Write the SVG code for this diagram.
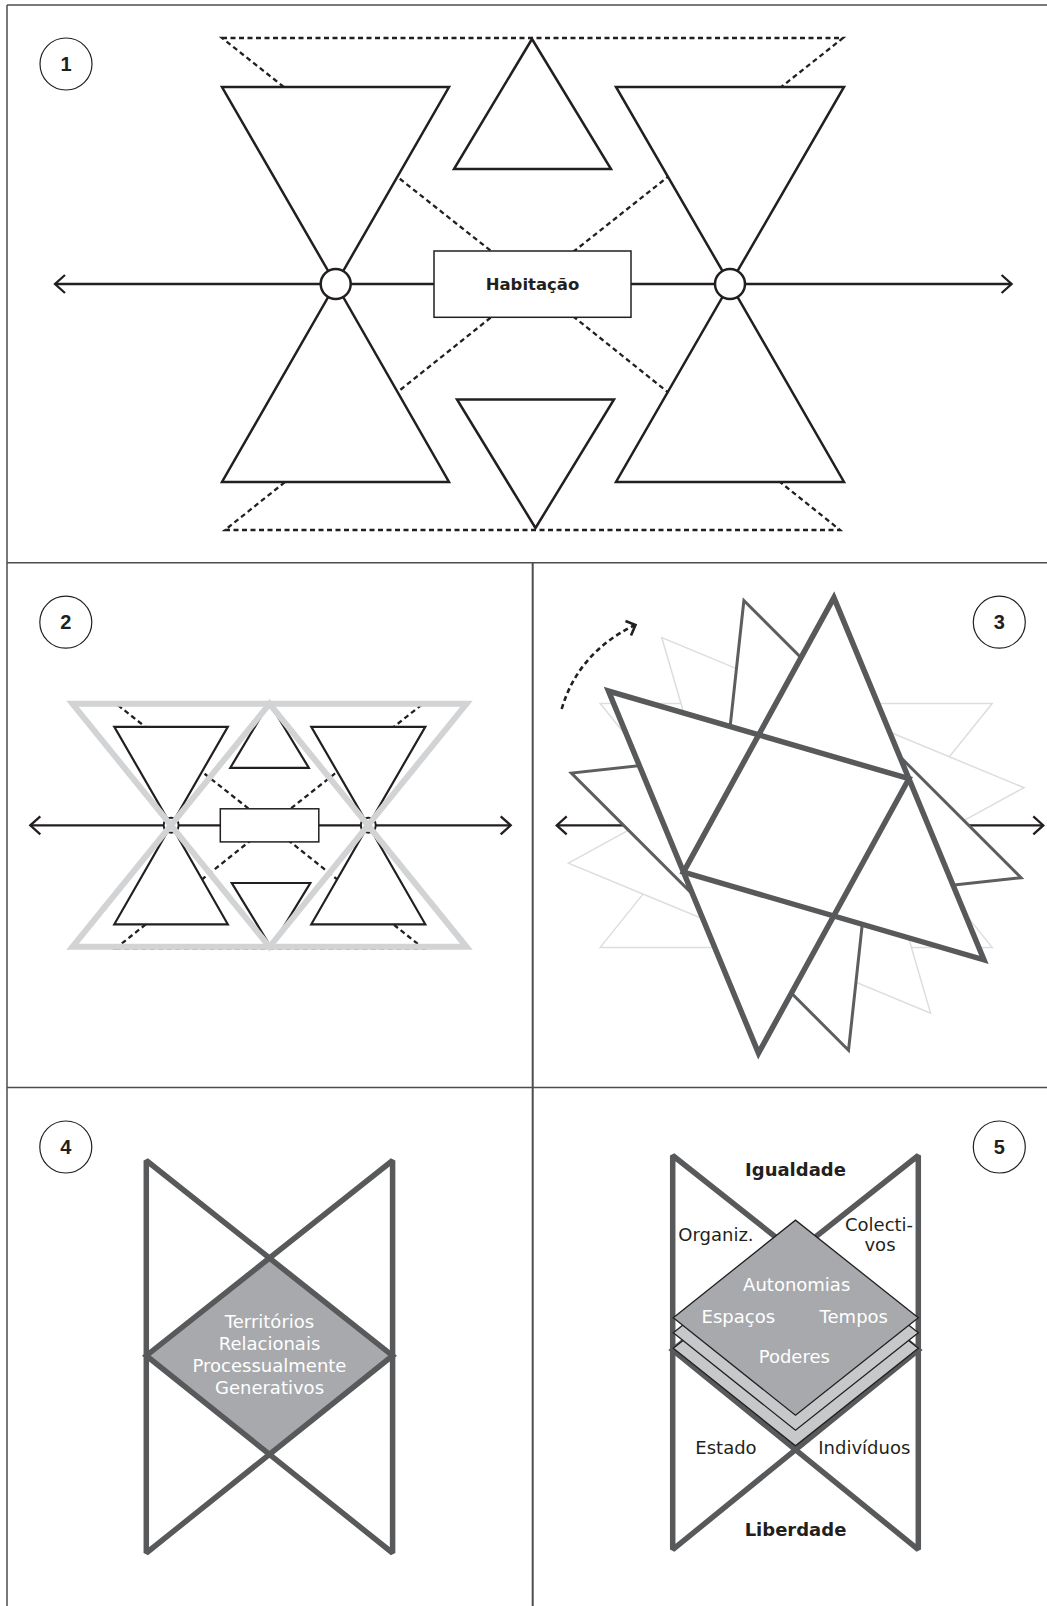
<svg xmlns="http://www.w3.org/2000/svg" xmlns:xlink="http://www.w3.org/1999/xlink" width="1047" height="1606" viewBox="0 0 1047 1606">
<style>
.frame{fill:none;stroke:#4d4d4d;stroke-width:1.5}
.solid{fill:#fff;stroke:#231f20;stroke-width:2.5;stroke-linejoin:miter}
.solid2{fill:#fff;stroke:#231f20;stroke-width:2.2;stroke-linejoin:miter}
.dash{fill:none;stroke:#231f20;stroke-width:2.3;stroke-dasharray:5 3.5}
.axis{fill:none;stroke:#231f20;stroke-width:2.3;marker-start:url(#arr);marker-end:url(#arr)}
.lbl circle{fill:#fff;stroke:#231f20;stroke-width:1.2}
.lbl text{font-family:"Liberation Sans",Arial,sans-serif;font-weight:bold;font-size:20px;text-anchor:middle;fill:#231f20}
.gray{fill:none;stroke:#d1d3d4;stroke-width:6;stroke-linejoin:miter}
.hg{fill:none;stroke:#58595b;stroke-width:5.5;stroke-linejoin:miter;stroke-miterlimit:2}
.t{font-family:"DejaVu Sans",Verdana,sans-serif;font-size:18px;fill:#231f20}
.tb{font-family:"DejaVu Sans",Verdana,sans-serif;font-size:18px;font-weight:bold;fill:#231f20;text-anchor:middle}
.tw{font-family:"DejaVu Sans",Verdana,sans-serif;font-size:18px;fill:#fff;text-anchor:middle}
.dia{stroke:#231f20;stroke-width:1.3;stroke-linejoin:miter}
</style>
<defs>
<marker id="arr" markerUnits="userSpaceOnUse" viewBox="-13 -12 16 24" refX="0" refY="0" markerWidth="16" markerHeight="24" orient="auto-start-reverse">
<path d="M-10,-9 L0,0 L-10,9" fill="none" stroke="#231f20" stroke-width="2.3"/>
</marker>
<g id="star">
<polygon points="-196,-122 196,-122 98,0 196,122 -196,122 -98,0" fill="#fff" stroke="none"/>
<polygon points="0,-122 -196,122 196,122" fill="none"/>
<polygon points="-196,-122 196,-122 0,122" fill="none"/>
</g>
</defs>

<g id="frame" class="frame">
<line x1="7" y1="5" x2="1047" y2="5"/>
<line x1="7" y1="5" x2="7" y2="1606"/>
<line x1="7" y1="562.7" x2="1047" y2="562.7"/>
<line x1="7" y1="1087.4" x2="1047" y2="1087.4"/>
<line x1="532.7" y1="562.7" x2="532.7" y2="1606" stroke-width="2"/>
</g>

<g id="connectors">
<polygon class="dash" points="222,38 843,38 532.7,284"/>
<polygon class="dash" points="225,530 840,530 532.7,284"/>
<line class="axis" x1="55" y1="284" x2="1011.6" y2="284"/>
<polygon class="dash" points="114.3,702.3 424.8,702.3 269.65,825.3"/>
<polygon class="dash" points="115.8,948.3 423.3,948.3 269.65,825.3"/>
<line class="axis" x1="30.3" y1="825.3" x2="510.7" y2="825.3" stroke-width="2"/>
<line class="axis" x1="556.7" y1="825.4" x2="1043.3" y2="825.4" stroke-width="2"/>
</g>

<g id="p1-tri-tl"><polygon class="solid" points="222,87 449,87 335.7,284"/></g>
<g id="p1-tri-tr"><polygon class="solid" points="616,87 844,87 730,284"/></g>
<g id="p1-tri-bl"><polygon class="solid" points="222,482 449,482 335.7,284"/></g>
<g id="p1-tri-br"><polygon class="solid" points="616,482 844,482 730,284"/></g>
<g id="p1-tri-up"><polygon class="solid" points="532,39 454,169 611,169"/></g>
<g id="p1-tri-down"><polygon class="solid" points="457,399.5 614,399.5 535.5,528"/></g>
<g id="p1-habitacao">
<rect x="434" y="251" width="197" height="66.3" fill="#fff" stroke="#231f20" stroke-width="1.5"/>
<text x="532.5" y="290" font-family="'DejaVu Sans',Verdana,sans-serif" font-weight="bold" font-size="16.5" text-anchor="middle" fill="#231f20">Habitação</text>
</g>
<g id="p1-node-l"><circle cx="335.7" cy="284" r="15" fill="#fff" stroke="#231f20" stroke-width="2.5"/></g>
<g id="p1-node-r"><circle cx="730" cy="284" r="15" fill="#fff" stroke="#231f20" stroke-width="2.5"/></g>
<g id="label-1" class="lbl"><circle cx="66" cy="64" r="26"/><text x="66" y="71">1</text></g>

<g id="p2-figure">
<polygon class="solid2" points="114.3,726.8 227.8,726.8 171.15,825.3"/>
<polygon class="solid2" points="311.3,726.8 425.3,726.8 368.3,825.3"/>
<polygon class="solid2" points="114.3,924.3 227.8,924.3 171.15,825.3"/>
<polygon class="solid2" points="311.3,924.3 425.3,924.3 368.3,825.3"/>
<polygon class="solid2" points="269.3,702.8 230.3,767.8 308.8,767.8"/>
<polygon class="solid2" points="231.8,883 310.3,883 271.05,947.3"/>
<rect x="220.3" y="808.8" width="98.5" height="33.1" fill="#fff" stroke="#231f20" stroke-width="1.5"/>
<circle cx="171.15" cy="825.3" r="7.5" fill="#fff" stroke="#231f20" stroke-width="2"/>
<circle cx="368.3" cy="825.3" r="7.5" fill="#fff" stroke="#231f20" stroke-width="2"/>
</g>
<g id="p2-gray">
<polygon class="gray" points="269.5,703.8 72.5,946.8 466.5,946.8"/>
<polygon class="gray" points="72.5,703.8 466.5,703.8 269.5,946.8"/>
</g>
<g id="label-2" class="lbl"><circle cx="65.8" cy="622.2" r="26"/><text x="65.8" y="629.2">2</text></g>

<g id="p3-star-0"><use xlink:href="#star" href="#star" transform="translate(796.2,825.4)" stroke="#dcdddd" stroke-width="1.5"/></g>
<g id="p3-star-22"><use xlink:href="#star" href="#star" transform="translate(796.2,825.4) rotate(22.5)" stroke="#dcdddd" stroke-width="1.5"/></g>
<g id="p3-star-45"><use xlink:href="#star" href="#star" transform="translate(796.2,825.4) rotate(45)" stroke="#5d5e60" stroke-width="3"/></g>
<g id="p3-star-67"><use xlink:href="#star" href="#star" transform="translate(796.2,825.4) rotate(67.5)" stroke="#58595b" stroke-width="5.5"/></g>
<g id="p3-rotation">
<path d="M561.7,709 Q578,653 634,625.5" fill="none" stroke="#231f20" stroke-width="2.6" stroke-dasharray="5 3.5"/>
<polyline points="625.5,621 635.5,625 631,635.5" fill="none" stroke="#231f20" stroke-width="2.6"/>
</g>
<g id="label-3" class="lbl"><circle cx="999.3" cy="622.2" r="26"/><text x="999.3" y="629.2">3</text></g>

<g id="p4-figure">
<polygon points="146.3,1355.7 269.45,1258.1 392.6,1355.7 269.45,1453.3" fill="#a7a9ac"/>
<polygon class="hg" points="146.3,1160.5 392.6,1355.7 146.3,1553"/>
<polygon class="hg" points="392.6,1160.5 146.3,1355.7 392.6,1553"/>
<text class="tw" x="269.5" y="1328">Territórios</text>
<text class="tw" x="269.5" y="1350">Relacionais</text>
<text class="tw" x="269.5" y="1372">Processualmente</text>
<text class="tw" x="269.5" y="1394">Generativos</text>
</g>
<g id="label-4" class="lbl"><circle cx="65.8" cy="1147" r="26"/><text x="65.8" y="1154">4</text></g>

<g id="p5-hourglass">
<polygon class="hg" points="672.7,1155.5 918.3,1350 672.7,1549.6"/>
<polygon class="hg" points="918.3,1155.5 672.7,1350 918.3,1549.6"/>
</g>
<g id="p5-layers">
<polygon class="dia" fill="#c7c8ca" points="673.3,1348.3 795.5,1250.8 918.3,1348.3 795.5,1445.8"/>
<polygon class="dia" fill="#c7c8ca" points="673.3,1332.7 795.5,1235.2 918.3,1332.7 795.5,1430.2"/>
<polygon class="dia" fill="#a7a9ac" points="673.3,1317.7 795.5,1220.2 918.3,1317.7 795.5,1415.2"/>
<text class="tw" x="796.7" y="1290.7">Autonomias</text>
<text class="tw" x="738.3" y="1323.2">Espaços</text>
<text class="tw" x="853.8" y="1323.2">Tempos</text>
<text class="tw" x="794.3" y="1362.8">Poderes</text>
</g>
<g id="p5-labels">
<text class="tb" x="795.5" y="1175.6">Igualdade</text>
<text class="tb" x="795.5" y="1536.2">Liberdade</text>
<text class="t" x="678.3" y="1241">Organiz.</text>
<text class="t" x="845" y="1231">Colecti-</text>
<text class="t" x="880" y="1251" text-anchor="middle">vos</text>
<text class="t" x="726" y="1454" text-anchor="middle">Estado</text>
<text class="t" x="818.3" y="1454">Indivíduos</text>
</g>
<g id="label-5" class="lbl"><circle cx="999.3" cy="1147" r="26"/><text x="999.3" y="1154">5</text></g>
</svg>
